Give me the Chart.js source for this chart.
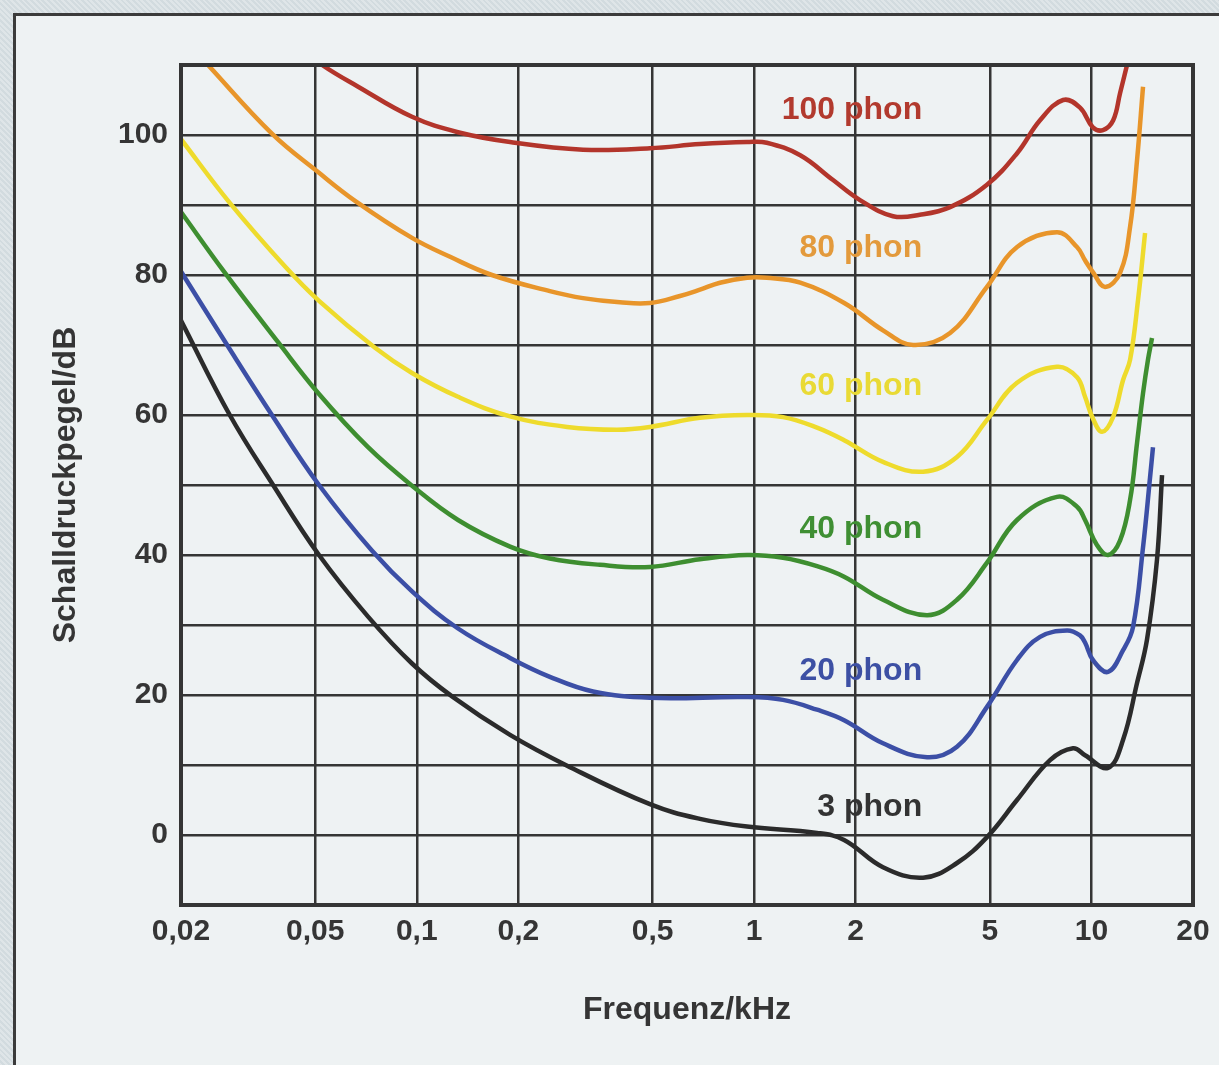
<!DOCTYPE html>
<html>
<head>
<meta charset="utf-8">
<title>Kurven gleicher Lautstärke</title>
<script src="https://cdn.jsdelivr.net/npm/chart.js@4/dist/chart.umd.min.js"></script>
<style>
  html, body { margin: 0; padding: 0; }
  body {
    width: 1219px; height: 1065px; overflow: hidden; position: relative;
    background: #d2dbdf repeating-linear-gradient(45deg, rgba(255,255,255,0.28) 0 2px, rgba(0,0,0,0) 2px 4px);
  }
  #panel {
    position: absolute; left: 13px; top: 13px; width: 1240px; height: 1090px;
    background: #eef2f3; border: 3px solid #3b3b3b;
  }
  #wrap { position: absolute; left: 0; top: 0; width: 1219px; height: 1065px; }
</style>
</head>
<body>
<div id="panel"></div>
<div id="wrap"><canvas id="chart"></canvas></div>
<script>
// axis ticks
const xTicks = [0.02, 0.05, 0.1, 0.2, 0.5, 1, 2, 5, 10, 20];
const xTickLabels = ['0,02', '0,05', '0,1', '0,2', '0,5', '1', '2', '5', '10', '20'];
const yTickLabels = [0, 20, 40, 60, 80, 100];

// curves (frequency in kHz, level in dB)
const phonNames = ['100 phon', '80 phon', '60 phon', '40 phon', '20 phon', '3 phon'];
const phonColors = ['#b3352b', '#e8952a', '#eedb2c', '#3e8e30', '#3c4fa6', '#2b2b2b'];
const labelColors = ['#b23a2e', '#e39a3c', '#e9da35', '#3f8f33', '#3d50a4', '#333333'];
const labelFreq = 3.15;
const labelDb = [103.6, 83.9, 64.1, 43.7, 23.4, 4];

const f100 = [0.042, 0.0524, 0.067, 0.0968, 0.1325, 0.189, 0.311, 0.491, 0.691, 0.953, 1.09, 1.37, 1.71, 2.06, 2.58, 3.10, 3.81, 4.90, 6.02, 7.04, 8.24, 9.25, 10.1, 10.82, 11.6, 12.16, 12.75, 13.2];
const db100 = [113.6, 110, 106.9, 102.6, 100.4, 99, 97.9, 98.1, 98.7, 99, 98.9, 97.1, 93.6, 90.7, 88.4, 88.6, 89.7, 92.9, 97.4, 102.1, 105, 103.9, 101.1, 100.7, 102.1, 106, 110, 112.9];

const f80 = [0.022, 0.02405, 0.0372, 0.0513, 0.0656, 0.0968, 0.1255, 0.167, 0.248, 0.311, 0.400, 0.491, 0.603, 0.691, 0.792, 0.953, 1.09, 1.37, 1.85, 2.41, 2.96, 3.81, 4.90, 6.02, 7.91, 9.06, 9.57, 10.1, 10.97, 12.16, 13.02, 13.65, 14.22];
const db80 = [112.1, 110, 100.2, 94.6, 90.6, 85.3, 82.6, 80.0, 77.7, 76.7, 76.1, 76, 77, 77.9, 78.9, 79.6, 79.6, 78.9, 76, 72.1, 70, 71.7, 78.3, 84, 86.1, 84, 82.1, 80.4, 78.3, 80.3, 86.9, 96.4, 106.9];

const f60 = [0.02, 0.0279, 0.0407, 0.0513, 0.0752, 0.0968, 0.1325, 0.189, 0.279, 0.392, 0.491, 0.691, 0.953, 1.218, 1.536, 1.848, 2.41, 3.169, 3.994, 4.902, 6.016, 7.906, 9.064, 9.572, 10.1, 10.75, 11.59, 12.41, 13.02, 13.74, 14.42];
const db60 = [99.4, 90.3, 81.2, 76.3, 69.6, 66, 62.6, 59.8, 58.3, 57.9, 58.3, 59.6, 60, 59.7, 58.2, 56.4, 53.3, 51.9, 54, 59.3, 64.6, 66.9, 65.4, 62.6, 59.5, 57.6, 59.7, 65, 67.9, 76.4, 86];

const f40 = [0.02, 0.027, 0.0388, 0.0513, 0.0717, 0.0968, 0.1325, 0.189, 0.248, 0.349, 0.491, 0.691, 0.953, 1.218, 1.536, 1.848, 2.41, 3.256, 3.994, 4.902, 6.016, 7.906, 9.064, 9.572, 10.39, 11.2, 12.16, 13.02, 13.65, 14.22, 14.71, 15.12];
const db40 = [89, 80.3, 70.4, 63.0, 55.4, 49.9, 45.0, 41.2, 39.5, 38.6, 38.3, 39.4, 40, 39.6, 38.4, 36.9, 33.6, 31.4, 33.6, 38.9, 45, 48.3, 46.9, 45, 41.4, 40, 42.1, 47.9, 56, 63.1, 67.9, 71];

const f20 = [0.02, 0.0274, 0.0372, 0.0513, 0.0737, 0.0968, 0.1325, 0.189, 0.248, 0.333, 0.491, 0.953, 1.218, 1.536, 1.848, 2.41, 3.256, 3.994, 4.902, 6.016, 7.042, 8.466, 9.252, 9.572, 10.1, 11.2, 12.41, 13.28, 14.22, 14.92, 15.22];
const db20 = [80.5, 70, 60, 50, 40.6, 34.8, 29.5, 25.3, 22.6, 20.5, 19.6, 19.7, 19.3, 17.9, 16.4, 13.1, 11.1, 12.6, 18.3, 25, 28.3, 29.2, 28.5, 27.5, 25, 23.3, 26.4, 29.7, 41.1, 51.1, 55.4];

const f3 = [0.02, 0.0279, 0.0375, 0.0513, 0.0717, 0.0968, 0.1272, 0.189, 0.279, 0.491, 0.691, 0.953, 1.536, 1.848, 2.41, 3.169, 3.994, 4.902, 6.016, 7.538, 8.82, 9.572, 11.2, 12.41, 13.65, 14.61, 15.64, 16.19];
const db3 = [73.5, 60, 50, 40, 31.2, 24.5, 19.8, 14.3, 9.9, 4.4, 2.3, 1.2, 0.3, -0.7, -4.6, -6.1, -4, -0.3, 5, 10.7, 12.4, 11.4, 9.6, 13.6, 21.7, 27.9, 39.3, 51.4];

const curveFreqs = [f100, f80, f60, f40, f20, f3];
const curveDbs = [db100, db80, db60, db40, db20, db3];

const fontFamily = "'Liberation Sans', Arial, Helvetica, sans-serif";
const tickFont = { family: fontFamily, weight: 'bold', size: 30 };
const titleFont = { family: fontFamily, weight: 'bold', size: 32 };
const textColor = '#353535';
const gridColor = '#353535';

const datasets = phonNames.map((name, i) => ({
  label: name,
  data: curveFreqs[i].map((f, j) => ({ x: f, y: curveDbs[i][j] })),
  borderColor: phonColors[i],
  borderWidth: 4.5,
  pointRadius: 0,
  tension: 0.4,
  fill: false
}));

// frame + curve names
const phonLabels = {
  id: 'phonLabels',
  afterDatasetsDraw(chart) {
    const { ctx, chartArea: a, scales: { x, y } } = chart;
    ctx.save();
    ctx.strokeStyle = gridColor;
    ctx.lineWidth = 4;
    ctx.strokeRect(a.left, a.top, a.right - a.left, a.bottom - a.top);
    ctx.font = 'bold 32px ' + fontFamily;
    ctx.textAlign = 'right';
    ctx.textBaseline = 'middle';
    phonNames.forEach((name, i) => {
      ctx.fillStyle = labelColors[i];
      ctx.fillText(name, x.getPixelForValue(labelFreq), y.getPixelForValue(labelDb[i]));
    });
    ctx.restore();
  }
};

new Chart(document.getElementById('chart'), {
  type: 'line',
  data: { datasets: datasets },
  options: {
    responsive: true,
    maintainAspectRatio: false,
    animation: false,
    layout: { padding: { left: 0, top: 65, right: 26, bottom: 0 } },
    plugins: { legend: { display: false }, tooltip: { enabled: false } },
    scales: {
      x: {
        type: 'logarithmic',
        min: 0.02,
        max: 20,
        afterBuildTicks: s => { s.ticks = xTicks.map(v => ({ value: v })); },
        afterFit: s => { s.height = 160; },
        grid: { color: gridColor, lineWidth: 2.5, drawTicks: false },
        border: { display: false },
        ticks: {
          autoSkip: false, maxRotation: 0, padding: 9, color: textColor, font: tickFont,
          callback: v => { const k = xTicks.indexOf(v); return k < 0 ? '' : xTickLabels[k]; }
        },
        title: { display: true, text: 'Frequenz/kHz', color: textColor, font: titleFont, padding: { top: 0, bottom: 36 } }
      },
      y: {
        type: 'linear',
        min: -10,
        max: 110,
        afterFit: s => { s.width = 181; },
        grid: { color: gridColor, lineWidth: 2.5, drawTicks: false },
        border: { display: false },
        ticks: {
          stepSize: 10, autoSkip: false, padding: 13, color: textColor, font: tickFont,
          callback: v => yTickLabels.includes(v) ? String(v) : ''
        },
        title: { display: true, text: 'Schalldruckpegel/dB', color: textColor, font: titleFont, padding: { top: 47, bottom: 0 } }
      }
    }
  },
  plugins: [phonLabels]
});
</script>
</body>
</html>
